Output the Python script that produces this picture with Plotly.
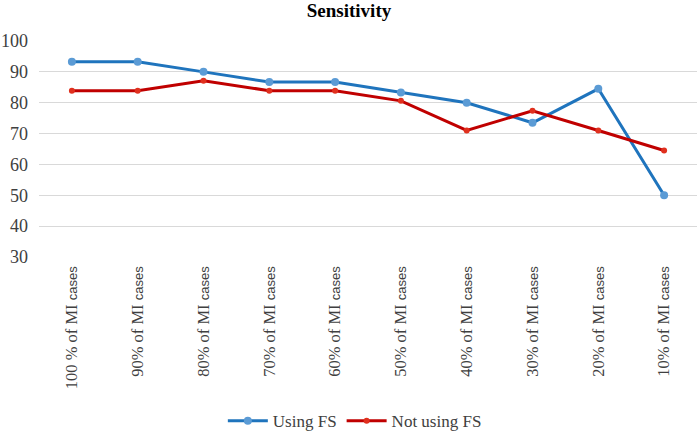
import plotly.graph_objects as go

# categories and series
categories = ["100 % of MI", "90% of MI", "80% of MI", "70% of MI", "60% of MI",
              "50% of MI", "40% of MI", "30% of MI", "20% of MI", "10% of MI"]
using_fs = [93.3, 93.3, 90.0, 86.7, 86.7, 83.3, 80.0, 73.5, 84.5, 50.0]
not_using_fs = [83.9, 83.9, 87.1, 83.9, 83.9, 80.6, 71.0, 77.4, 71.0, 64.5]
y_ticks = [30, 40, 50, 60, 70, 80, 90, 100]

# "cases" is set in a sans face in the original, the rest in serif
tick_text = [c + ' <span style="font-family:Liberation Sans;font-size:13px">cases</span>'
             for c in categories]

fig = go.Figure()
fig.add_trace(go.Scatter(x=categories, y=using_fs, name="Using FS", mode="lines+markers",
                         line=dict(color="#1f74bd", width=3),
                         marker=dict(color="#5b9bd5", size=8)))
fig.add_trace(go.Scatter(x=categories, y=not_using_fs, name="Not using FS", mode="lines+markers",
                         line=dict(color="#c00000", width=3),
                         marker=dict(color="#e0301e", size=6)))

fig.update_layout(
    width=698, height=432,
    margin=dict(l=39, r=1, t=41, b=175, autoexpand=False),
    plot_bgcolor="white", paper_bgcolor="white",
    font=dict(family="Liberation Serif", size=16, color="#404040"),
    title=dict(text="<b>Sensitivity</b>", x=0.5, xanchor="center", y=0.975, yanchor="middle",
               font=dict(family="Liberation Serif", size=19, color="black")),
    showlegend=True,
    legend=dict(orientation="h", x=0.48, xanchor="center", y=-0.76, yanchor="middle",
                font=dict(family="Liberation Serif", size=17, color="#404040"),
                traceorder="normal", itemwidth=40),
)
fig.update_xaxes(tickvals=categories, ticktext=tick_text, tickangle=-90,
                 showgrid=False, showline=False, ticks="", automargin=False,
                 ticklabelstandoff=5,
                 tickfont=dict(family="Liberation Serif", size=16.5, color="#404040"),
                 range=[-0.5, 9.5])
fig.update_yaxes(range=[30, 100], tickvals=y_ticks, showgrid=True, gridcolor="#d9d9d9",
                 zeroline=False, showline=False, ticks="", automargin=False,
                 ticklabelstandoff=10,
                 tickfont=dict(family="Liberation Serif", size=18, color="#404040"))

fig.write_html("out.html", config={"displayModeBar": False},
               post_script="document.body.style.margin='0';")
